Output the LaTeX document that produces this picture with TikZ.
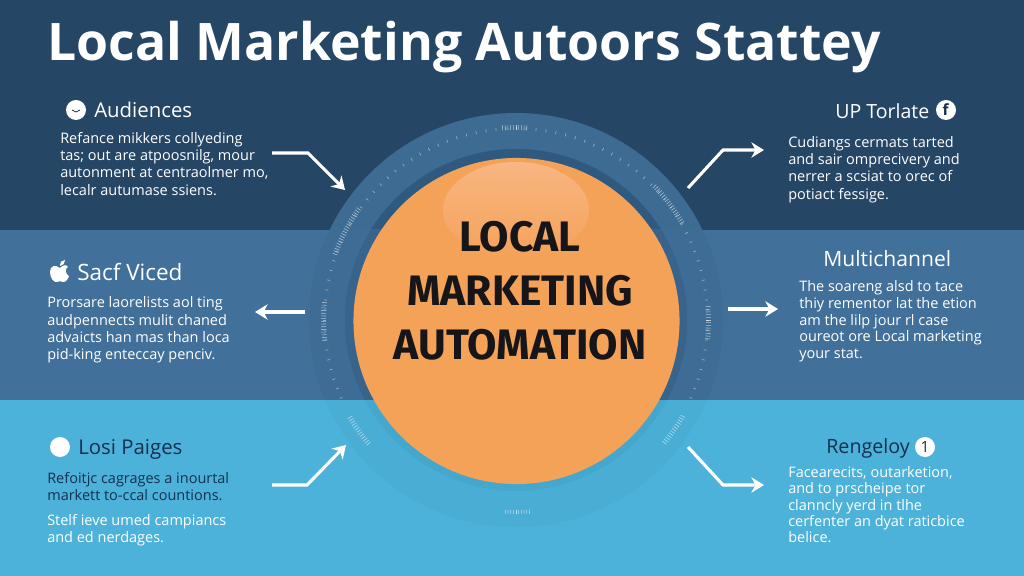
\documentclass[tikz,border=0pt]{standalone}
\usepackage{fontspec}
\setmainfont{Open Sans}
\newfontfamily\hubfont{Fira Sans}
\usetikzlibrary{arrows.meta,positioning}
\definecolor{bandtop}{HTML}{264666}
\definecolor{bandmid}{HTML}{41709A}
\definecolor{bandlow}{HTML}{4CB2D9}
\definecolor{ringtop}{HTML}{3D6B92}
\definecolor{ringmid}{HTML}{3F6C94}
\definecolor{ringlow}{HTML}{49ADD4}
\definecolor{gaptop}{HTML}{30597F}
\definecolor{gapmid}{HTML}{38638B}
\definecolor{gaplow}{HTML}{44A7CE}
\definecolor{hubfill}{HTML}{F5A259}
\definecolor{hubshine}{HTML}{F8B682}
\definecolor{inkdark}{HTML}{14304F}
\definecolor{inkhub}{HTML}{16161A}
\begin{document}
\begin{tikzpicture}[x=0.025cm, y=-0.025cm, node distance=0.5cm]
    \tikzstyle{heading} = [text=white, font=\fontsize{14.5}{17}\selectfont]
    \tikzstyle{bodytext} = [text=white, align=left, inner sep=0pt, font=\fontsize{10.3}{12.3}\selectfont]
    \tikzstyle{badge} = [circle, fill=white, minimum size=0.5cm, inner sep=0pt, text=inkdark, font=\fontsize{11}{12}\selectfont]
    \tikzstyle{flow} = [white, line width=2.2pt, -{Stealth[length=9pt,width=11pt]}]
    \tikzstyle{tick} = [white, opacity=0.45, line width=0.5pt]
    \tikzstyle{dense} = [white, opacity=0.6, line width=0.4pt]

    % Bands
    \fill [bandtop] (0,0) rectangle (1024,230);
    \fill [bandmid] (0,230) rectangle (1024,400);
    \fill [bandlow] (0,400) rectangle (1024,576);
    \useasboundingbox (0,0) rectangle (1024,576);

    % Ring behind the hub
    \foreach \ytop/\ybot/\ringcol/\gapcol in {0/230/ringtop/gaptop, 230/400/ringmid/gapmid, 400/576/ringlow/gaplow} {
        \begin{scope}
            \clip (0,\ytop) rectangle (1024,\ybot);
            \fill [\ringcol] (516,320) circle (207);
            \fill [\gapcol] (516,320) circle (171);
        \end{scope}
    }

    % Ticks on the ring
    \foreach \ang in {-150,-147,...,-30} \draw [tick] (516,320) ++(\ang:190) -- ++(\ang:3);
    \foreach \ang in {-27,-24,...,24} \draw [tick] (516,320) ++(\ang:190) -- ++(\ang:3);
    \foreach \ang in {156,159,...,204} \draw [tick] (516,320) ++(\ang:190) -- ++(\ang:3);
    \foreach \ang in {-94,-93.2,...,-86} \draw [dense] (516,320) ++(\ang:190) -- ++(\ang:5);
    \foreach \ang in {-160,-159.2,...,-144} \draw [dense] (516,320) ++(\ang:190) -- ++(\ang:5);
    \foreach \ang in {-44,-43.2,...,-30} \draw [dense] (516,320) ++(\ang:190) -- ++(\ang:5);
    \foreach \ang in {-4,-3.2,...,6} \draw [dense] (516,320) ++(\ang:190) -- ++(\ang:5);
    \foreach \ang in {174,174.8,...,186} \draw [dense] (516,320) ++(\ang:190) -- ++(\ang:5);
    \foreach \ang in {140,140.8,...,150} \draw [dense] (516,320) ++(\ang:190) -- ++(\ang:5);
    \foreach \ang in {30,30.8,...,40} \draw [dense] (516,320) ++(\ang:190) -- ++(\ang:5);
    \foreach \ang in {86,86.8,...,94} \draw [dense] (516,320) ++(\ang:190) -- ++(\ang:4);

    % Hub
    \node [circle, fill=hubfill, minimum size=8.15cm, inner sep=0pt] (hub) at (516.5,321) {};
    \shade [top color=hubshine, bottom color=hubfill] (516,210) ellipse (73 and 48);
    \node [text=inkhub, align=center, font=\hubfont\fontsize{30.3}{38.5}\selectfont\bfseries] (hublabel) at (520,291) {LOCAL\\MARKETING\\AUTOMATION};

    % Title
    \node [text=white, anchor=west, inner sep=0pt, font=\fontsize{36.8}{41}\selectfont\bfseries] (title) at (47,47) {Local Marketing Autoors Stattey};

    % Left column
    \node [badge] (audicon) at (76,110) {};
    \node [heading, anchor=west, inner sep=0pt] (aud) at (94,110) {Audiences};
    \draw [inkdark, line width=0.5pt] (72,110) -- (76,112) -- (80,110);
    \node [bodytext, anchor=north west] (audtext) at (60,132) {Refance mikkers collyeding\\tas; out are atpoosnilg, mour\\autonment at centraolmer mo,\\lecalr autumase ssiens.};

    \fill [white] (60,268) .. controls (55,264) and (50,266) .. (50,272) .. controls (50,278) and (54,283) .. (57,282) .. controls (59,281) and (61,281) .. (63,282) .. controls (66,283) and (69,277) .. (69,276) .. controls (65,274) and (65,268) .. (68,267) .. controls (66,264) and (63,265) .. (60,268) -- cycle;
    \fill [white] (60,266) .. controls (60,262) and (62,260) .. (65,260) .. controls (65,263) and (63,266) .. (60,266) -- cycle;
    \node [heading, anchor=west, inner sep=0pt, font=\fontsize{16}{18}\selectfont] (saf) at (77,272) {Sacf Viced};
    \node [bodytext, anchor=north west] (saftext) at (47,296.5) {Prorsare laorelists aol ting\\audpennects mulit chaned\\advaicts han mas than loca\\pid-king enteccay penciv.};

    \node [badge] (losicon) at (60,447) {};
    \node [heading, text=inkdark, anchor=west, inner sep=0pt] (los) at (78,449) {Losi Paiges};
    \node [bodytext, text=inkdark, anchor=north west] (lostext) at (47,472) {Refoitjc cagrages a inourtal\\markett to-ccal countions.};
    \node [bodytext, anchor=north west] (losmore) at (47,514) {Stelf ieve umed campiancs\\and ed nerdages.};

    % Right column
    \node [heading, anchor=west, inner sep=0pt, font=\fontsize{13.9}{16}\selectfont] (tor) at (835,111) {UP Torlate};
    \node [badge] (toricon) at (946,110) {\textbf{f}};
    \node [bodytext, anchor=north west] (tortext) at (788,136) {Cudiangs cermats tarted\\and sair omprecivery and\\nerrer a scsiat to orec of\\potiact fessige.};

    \node [heading, anchor=west, inner sep=0pt, font=\fontsize{15}{17}\selectfont] (mul) at (823,259) {Multichannel};
    \node [bodytext, anchor=north west, font=\fontsize{10.3}{11.9}\selectfont] (multext) at (799,280.5) {The soareng alsd to tace\\thiy rementor lat the etion\\am the lilp jour rl case\\oureot ore Local marketing\\your stat.};

    \node [heading, text=inkdark, anchor=west, inner sep=0pt, font=\fontsize{14}{16}\selectfont] (ren) at (826,448) {Rengeloy};
    \node [badge] (renicon) at (925,447) {1};
    \node [bodytext, anchor=north west, font=\fontsize{10.3}{11.5}\selectfont] (rentext) at (788,466.5) {Facearecits, outarketion,\\and to prscheipe tor\\clanncly yerd in tlhe\\cerfenter an dyat raticbice\\belice.};

    % Connectors
    \coordinate (a1) at (272,153); \coordinate (a2) at (308,153); \coordinate (a3) at (345,190);
    \coordinate (b1) at (688,188); \coordinate (b2) at (723,150); \coordinate (b3) at (764,150);
    \coordinate (c1) at (305,312); \coordinate (c2) at (255,312);
    \coordinate (d1) at (728,309); \coordinate (d2) at (778,309);
    \coordinate (e1) at (272,485); \coordinate (e2) at (307,485); \coordinate (e3) at (346,445);
    \coordinate (f1) at (688,447); \coordinate (f2) at (723,485); \coordinate (f3) at (764,485);
    \draw [flow] (a1) -- (a2) -- (a3);
    \draw [flow] (b1) -- (b2) -- (b3);
    \draw [flow] (c1) -- (c2);
    \draw [flow] (d1) -- (d2);
    \draw [flow] (e1) -- (e2) -- (e3);
    \draw [flow] (f1) -- (f2) -- (f3);
\end{tikzpicture}
\end{document}
